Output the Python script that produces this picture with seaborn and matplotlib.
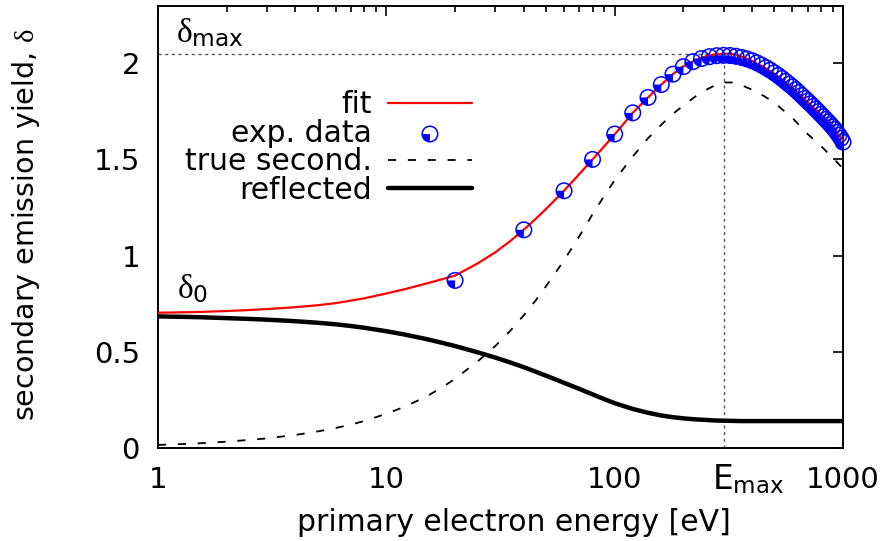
import matplotlib
matplotlib.use("Agg")
import matplotlib.pyplot as plt
from matplotlib.markers import MarkerStyle
from matplotlib.path import Path
from matplotlib.legend_handler import HandlerTuple
from matplotlib.ticker import FixedLocator, NullFormatter, LogLocator
import numpy as np
import pandas as pd
import seaborn as sns

# Model curves (energy in eV, yield dimensionless)
energy = [1, 1.25, 1.5, 2, 2.5, 3, 4, 5, 6, 7, 8, 10, 12, 15, 17.5, 20, 25,
          30, 35, 40, 45, 50, 60, 70, 80, 90, 100, 120, 140, 160, 180, 200,
          225, 250, 275, 300, 325, 350, 400, 450, 500, 600, 700, 800, 900, 1000]
fit_yield = [0.703, 0.705, 0.707, 0.712, 0.717, 0.722, 0.732, 0.742, 0.753,
             0.766, 0.778, 0.803, 0.825, 0.855, 0.877, 0.896, 0.958, 1.017,
             1.077, 1.135, 1.190, 1.242, 1.337, 1.424, 1.500, 1.568, 1.630,
             1.742, 1.822, 1.889, 1.943, 1.984, 2.015, 2.035, 2.046, 2.050,
             2.048, 2.040, 2.012, 1.979, 1.945, 1.872, 1.798, 1.732, 1.667,
             1.600]
true_secondary = [0.016, 0.020, 0.024, 0.033, 0.042, 0.050, 0.068, 0.086,
                  0.104, 0.122, 0.140, 0.178, 0.214, 0.268, 0.314, 0.360,
                  0.448, 0.530, 0.611, 0.690, 0.766, 0.840, 0.975, 1.100,
                  1.215, 1.310, 1.392, 1.515, 1.610, 1.680, 1.737, 1.780,
                  1.826, 1.860, 1.885, 1.900, 1.900, 1.892, 1.862, 1.830,
                  1.795, 1.716, 1.632, 1.570, 1.510, 1.452]
reflected = [0.684, 0.682, 0.680, 0.675, 0.671, 0.667, 0.659, 0.651, 0.643,
             0.634, 0.625, 0.607, 0.590, 0.566, 0.547, 0.530, 0.498, 0.470,
             0.444, 0.420, 0.397, 0.376, 0.339, 0.307, 0.279, 0.254, 0.233,
             0.203, 0.183, 0.169, 0.160, 0.154, 0.149, 0.146, 0.143, 0.142,
             0.141, 0.140, 0.140, 0.140, 0.140, 0.140, 0.140, 0.140, 0.140,
             0.140]

# Measured yield
exp_energy = [20, 40, 60, 80, 100, 120, 140, 160, 180, 200, 220, 240, 260,
              280, 300, 320, 340, 360, 380, 400, 420, 440, 460, 480, 500,
              520, 540, 560, 580, 600, 620, 640, 660, 680, 700, 720, 740,
              760, 780, 800, 820, 840, 860, 880, 900, 920, 940, 960, 980, 1000]
exp_yield = [0.871, 1.134, 1.337, 1.500, 1.632, 1.742, 1.822, 1.889, 1.943,
             1.982, 2.008, 2.024, 2.034, 2.039, 2.041, 2.040, 2.036, 2.030,
             2.022, 2.013, 2.002, 1.990, 1.977, 1.964, 1.950, 1.936, 1.921,
             1.906, 1.891, 1.877, 1.862, 1.847, 1.832, 1.817, 1.803, 1.789,
             1.775, 1.761, 1.748, 1.734, 1.721, 1.708, 1.695, 1.682, 1.669,
             1.656, 1.641, 1.626, 1.610, 1.590]

delta_max = 2.05
e_max = 300

x_ticks = [1, 10, 100, 1000]
x_ticklabels = ["1", "10", "100", "1000"]
y_ticks = [0, 0.5, 1, 1.5, 2]
y_ticklabels = ["0", "0.5", "1", "1.5", "2"]

sns.set_theme(style="white")
plt.rcParams["font.family"] = ["DejaVu Sans"]
plt.rcParams["mathtext.fontset"] = "custom"
plt.rcParams["mathtext.rm"] = "DejaVu Sans"
plt.rcParams["mathtext.it"] = "Liberation Serif"
plt.rcParams["axes.linewidth"] = 1.4
plt.rcParams["axes.edgecolor"] = "black"
for key in ["text.color", "axes.labelcolor", "xtick.color", "ytick.color"]:
    plt.rcParams[key] = "black"

TICK_FS = 21
XLABEL_FS = 21.5
YLABEL_FS = 20.5
LEGEND_FS = 21.5
ANNOT_FS = 24
EMAX_FS = 23.5

curves = pd.DataFrame({"energy": energy, "fit": fit_yield,
                       "true": true_secondary, "refl": reflected})
measured = pd.DataFrame({"energy": exp_energy, "yield": exp_yield})

fig = plt.figure(figsize=(8.88, 5.41), dpi=100)
ax = fig.add_axes([158 / 888, 1 - 448 / 541, (843 - 158) / 888, (448 - 5.5) / 541])
ax.set_xscale("log")

# guide lines for the maximum
ax.hlines(delta_max, 1, e_max, colors="#555555", linewidth=1.0,
          linestyles=(0, (2.2, 2.6)), zorder=1)
ax.vlines(e_max, 0, delta_max, colors="#555555", linewidth=1.0,
          linestyles=(0, (2.2, 2.6)), zorder=1)

sns.lineplot(data=curves, x="energy", y="fit", color="#ff0000", linewidth=1.6,
             estimator=None, sort=False, ax=ax, zorder=3)
fit_line = ax.lines[-1]

# half-filled circle markers: open ring plus a filled lower-left quarter
theta = np.linspace(np.pi, 1.5 * np.pi, 20)
quarter = Path(np.vstack([[0, 0], np.column_stack([np.cos(theta), np.sin(theta)]), [0, 0]]))
quarter_marker = MarkerStyle(quarter)

sns.scatterplot(data=measured, x="energy", y="yield", marker="o", s=125,
                facecolor="none", edgecolor="#0000ff", linewidth=1.1,
                ax=ax, zorder=4, clip_on=False)
ring = ax.collections[-1]
ring.set_facecolor("none")
ring.set_edgecolor("#0000ff")
sns.scatterplot(data=measured, x="energy", y="yield", marker=quarter_marker,
                s=125, color="#0000ff", edgecolor="none", linewidth=0,
                ax=ax, zorder=4, clip_on=False)
wedge = ax.collections[-1]

sns.lineplot(data=curves, x="energy", y="true", color="black", linewidth=1.3,
             linestyle=(0, (4.5, 6.5)), estimator=None, sort=False, ax=ax, zorder=3)
true_line = ax.lines[-1]
sns.lineplot(data=curves, x="energy", y="refl", color="black", linewidth=3.2,
             estimator=None, sort=False, ax=ax, zorder=3)
refl_line = ax.lines[-1]

ax.set_xlim(1, 1000)
ax.set_ylim(0, 2.3)

ax.xaxis.set_major_locator(FixedLocator(x_ticks))
ax.set_xticklabels(x_ticklabels)
ax.xaxis.set_minor_locator(LogLocator(base=10, subs=np.arange(2, 10)))
ax.xaxis.set_minor_formatter(NullFormatter())
ax.set_yticks(y_ticks)
ax.set_yticklabels(y_ticklabels)

ax.tick_params(which="both", direction="in", top=True, right=True,
               color="black", width=1.2)
ax.tick_params(which="major", length=7, labelsize=TICK_FS)
ax.tick_params(which="minor", length=4)
ax.tick_params(axis="x", which="major", pad=13)
ax.tick_params(axis="y", which="major", pad=13)

# E_max label under the axis, next to the 1000 label
ax.annotate(r"E$_{\mathrm{max}}$", xy=(e_max, -41 / 443),
            xycoords=ax.get_xaxis_transform(), xytext=(-12, 0),
            textcoords="offset pixels", ha="left", va="baseline",
            fontsize=EMAX_FS, annotation_clip=False)

ax.text(0.026, 2.11, r"$\delta_{\mathrm{max}}$", transform=ax.get_yaxis_transform(),
        ha="left", va="baseline", fontsize=ANNOT_FS)
ax.text(0.028, 0.78, r"$\delta_{0}$", transform=ax.get_yaxis_transform(),
        ha="left", va="baseline", fontsize=ANNOT_FS)

ax.set_xlabel("primary electron energy [eV]", fontsize=XLABEL_FS)
ax.set_ylabel(r"secondary emission yield, $\delta$", fontsize=YLABEL_FS)
ax.xaxis.set_label_coords(0.52, -0.135)
ax.yaxis.set_label_coords(-0.17, 0.505)

leg = ax.legend(handles=[fit_line, (ring, wedge), true_line, refl_line],
                labels=["fit", "exp. data", "true second.", "reflected"],
                handler_map={tuple: HandlerTuple(ndivide=1)},
                markerfirst=False, frameon=False, loc="upper right",
                bbox_to_anchor=(0.458, 0.808), borderaxespad=0, borderpad=0,
                handlelength=2.8, handletextpad=0.55, labelspacing=-0.02,
                fontsize=LEGEND_FS)

for spine in ax.spines.values():
    spine.set_visible(True)
    spine.set_color("black")

fig.savefig("out.png", dpi=100, facecolor="white")
